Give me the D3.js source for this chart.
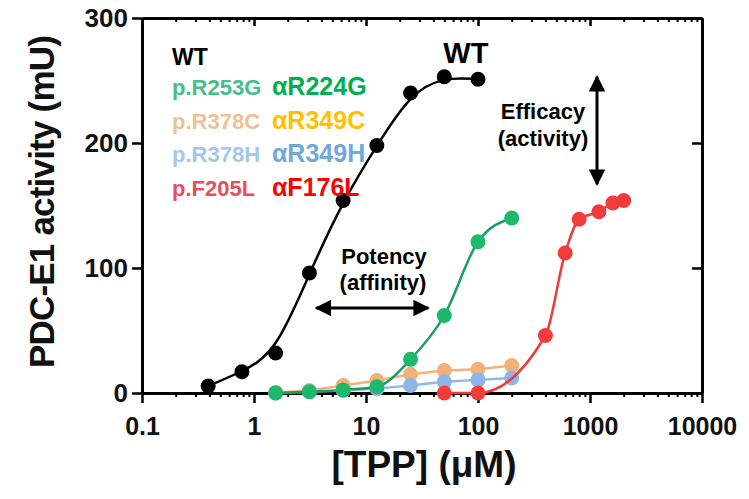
<!DOCTYPE html>
<html>
<head>
<meta charset="utf-8">
<script src="https://cdn.jsdelivr.net/npm/d3@7"></script>
<style>
  body { margin: 0; background: #fff; }
  text { font-family: "Liberation Sans", Arial, sans-serif; font-weight: bold; }
</style>
</head>
<body>
<svg id="chart" width="749" height="499"></svg>
<script>
// values
var wtConc = [0.39, 0.78, 1.56, 3.125, 6.25, 12.5, 25, 50, 100];
var wtAct = [5.6, 17, 32, 96, 154, 198, 240, 253, 251];

var greenConc = [1.56, 3.125, 6.25, 12.5, 25, 50, 100, 200];
var greenAct = [0, 1, 2.5, 5, 27, 62, 121, 140];

var orangeConc = [1.56, 3.125, 6.25, 12.5, 25, 50, 100, 200];
var orangeAct = [0.5, 2, 6, 10, 15, 18, 19, 22];

var blueConc = [1.56, 3.125, 6.25, 12.5, 25, 50, 100, 200];
var blueAct = [0, 1, 2, 3.5, 6, 9, 10.5, 12];

var redConc = [50, 100, 400, 600, 800, 1200, 1600, 2000];
var redAct = [0, 0, 46, 112, 139, 145, 152, 154];

var xMajor = [0.1, 1, 10, 100, 1000, 10000];
var yMajor = [0, 100, 200, 300];

var legendLeft = ["p.R253G", "p.R378C", "p.R378H", "p.F205L"];
var legendRight = ["\u03b1R224G", "\u03b1R349C", "\u03b1R349H", "\u03b1F176L"];
var legendLeftColors = ["#43bf8c", "#efbf98", "#a3c6ef", "#e6505c"];
var legendRightColors = ["#00b04f", "#ffc000", "#6fa8dc", "#ff0000"];

// Use the margin convention practice
var margin = { top: 18, right: 47, bottom: 106, left: 142 },
    width = 749 - margin.left - margin.right,
    height = 499 - margin.top - margin.bottom;

var svg = d3.select("#chart")
    .append("g")
    .attr("transform", "translate(" + margin.left + "," + margin.top + ")");

var x = d3.scaleLog().domain([0.1, 10000]).range([0, width]);
var y = d3.scaleLinear().domain([0, 300]).range([height, 0]);

// minor ticks 2..9 in each decade
var xMinor = [];
xMajor.slice(0, -1).forEach(function (d) {
    for (var k = 2; k <= 9; k++) xMinor.push(d * k);
});

function styleAxis(g, w) {
    g.select(".domain").attr("stroke-width", 3).attr("stroke", "#000");
    g.selectAll(".tick line").attr("stroke-width", w).attr("stroke", "#000");
}

// bottom axis
svg.append("g")
    .attr("transform", "translate(0," + height + ")")
    .call(d3.axisBottom(x).tickValues(xMinor).tickSize(4).tickSizeOuter(0).tickFormat(""))
    .call(styleAxis, 2)
    .select(".domain").remove();

var xAxis = svg.append("g")
    .attr("transform", "translate(0," + height + ")")
    .call(d3.axisBottom(x).tickValues(xMajor).tickSize(10).tickSizeOuter(0)
        .tickFormat(function (d) { return d; }))
    .call(styleAxis, 2.5);
xAxis.selectAll("text")
    .attr("y", 42).attr("dy", 0)
    .attr("fill", "#111")
    .style("font-size", "25px");

// top axis, ticks inward
svg.append("g")
    .call(d3.axisTop(x).tickValues(xMinor).tickSize(-4).tickSizeOuter(0).tickFormat(""))
    .call(styleAxis, 2)
    .select(".domain").remove();
svg.append("g")
    .call(d3.axisTop(x).tickValues(xMajor).tickSize(-8).tickSizeOuter(0).tickFormat(""))
    .call(styleAxis, 2.5);

// left axis
var yAxis = svg.append("g")
    .call(d3.axisLeft(y).tickValues(yMajor).tickSize(10).tickSizeOuter(0).tickPadding(4))
    .call(styleAxis, 2.5);
yAxis.selectAll("text")
    .attr("fill", "#111")
    .style("font-size", "26px");

// right axis, ticks inward
svg.append("g")
    .attr("transform", "translate(" + width + ",0)")
    .call(d3.axisRight(y).tickValues(yMajor).tickSize(-10).tickSizeOuter(0).tickFormat(""))
    .call(styleAxis, 2.5);

// axis titles
d3.select("#chart").append("text")
    .attr("transform", "translate(54,202) rotate(-90)")
    .attr("text-anchor", "middle")
    .style("font-size", "35px")
    .style("letter-spacing", "-0.8px")
    .attr("fill", "#111")
    .text("PDC-E1 activity (mU)");

d3.select("#chart").append("text")
    .attr("x", 424)
    .attr("y", 477)
    .attr("text-anchor", "middle")
    .style("font-size", "37px")
    .attr("fill", "#111")
    .text("[TPP] (\u03bcM)");

// series
var series = [
    { conc: orangeConc, act: orangeAct, line: "#f2b27c", dot: "#f0b27a", curve: d3.curveLinear },
    { conc: blueConc, act: blueAct, line: "#8fb8ec", dot: "#8cb6ea", curve: d3.curveLinear },
    { conc: greenConc, act: greenAct, line: "#179f63", dot: "#1cb86c", curve: d3.curveMonotoneX },
    { conc: redConc, act: redAct, line: "#ef3b3b", dot: "#f23c3c", curve: d3.curveMonotoneX },
    { conc: wtConc, act: wtAct, line: "#000", dot: "#000", curve: d3.curveBasis }
];

series.forEach(function (s) {
    var data = s.conc.map(function (c, i) { return { c: c, a: s.act[i] }; });

    var line = d3.line()
        .x(function (d) { return x(d.c); })
        .y(function (d) { return y(d.a); })
        .curve(s.curve);

    svg.append("path")
        .datum(data)
        .attr("fill", "none")
        .attr("stroke", s.line)
        .attr("stroke-width", 2.5)
        .attr("d", line);

    svg.selectAll(null)
        .data(data)
        .enter().append("circle")
        .attr("cx", function (d) { return x(d.c); })
        .attr("cy", function (d) { return y(d.a); })
        .attr("r", 7.5)
        .attr("fill", s.dot);
});

// legend
svg.append("text")
    .attr("x", 30).attr("y", 47)
    .style("font-size", "23px")
    .attr("fill", "#000")
    .text("WT");

legendLeft.forEach(function (t, i) {
    svg.append("text")
        .attr("x", 30).attr("y", 77 + i * 33.5)
        .style("font-size", "22px")
        .attr("fill", legendLeftColors[i])
        .text(t);
    svg.append("text")
        .attr("x", 130).attr("y", 77 + i * 33.5)
        .style("font-size", "25px")
        .attr("fill", legendRightColors[i])
        .text(legendRight[i]);
});

// WT label near curve
svg.append("text")
    .attr("x", x(50) - 1).attr("y", 45)
    .style("font-size", "29px")
    .attr("fill", "#000")
    .text("WT");

// arrows
var defs = d3.select("#chart").append("defs");
defs.append("marker")
    .attr("id", "head")
    .attr("viewBox", "0 0 10 10")
    .attr("refX", 9).attr("refY", 5)
    .attr("markerWidth", 5.5).attr("markerHeight", 5.5)
    .attr("markerUnits", "strokeWidth")
    .attr("orient", "auto-start-reverse")
    .append("path")
    .attr("d", "M0,0 L10,5 L0,10 Z")
    .attr("fill", "#000");

// Potency (affinity)
svg.append("line")
    .attr("x1", x(3.6)).attr("x2", x(36))
    .attr("y1", y(68)).attr("y2", y(68))
    .attr("stroke", "#000").attr("stroke-width", 3)
    .attr("marker-start", "url(#head)")
    .attr("marker-end", "url(#head)");

svg.append("text")
    .attr("x", 242).attr("y", 246)
    .attr("text-anchor", "middle")
    .style("font-size", "22px")
    .text("Potency");
svg.append("text")
    .attr("x", 241).attr("y", 272)
    .attr("text-anchor", "middle")
    .style("font-size", "22px")
    .text("(affinity)");

// Efficacy (activity)
svg.append("line")
    .attr("x1", x(1000) + 7).attr("x2", x(1000) + 7)
    .attr("y1", y(253)).attr("y2", y(167))
    .attr("stroke", "#000").attr("stroke-width", 3)
    .attr("marker-start", "url(#head)")
    .attr("marker-end", "url(#head)");

svg.append("text")
    .attr("x", 401).attr("y", 101)
    .attr("text-anchor", "middle")
    .style("font-size", "22px")
    .text("Efficacy");
svg.append("text")
    .attr("x", 401).attr("y", 128)
    .attr("text-anchor", "middle")
    .style("font-size", "22px")
    .text("(activity)");
</script>
</body>
</html>
